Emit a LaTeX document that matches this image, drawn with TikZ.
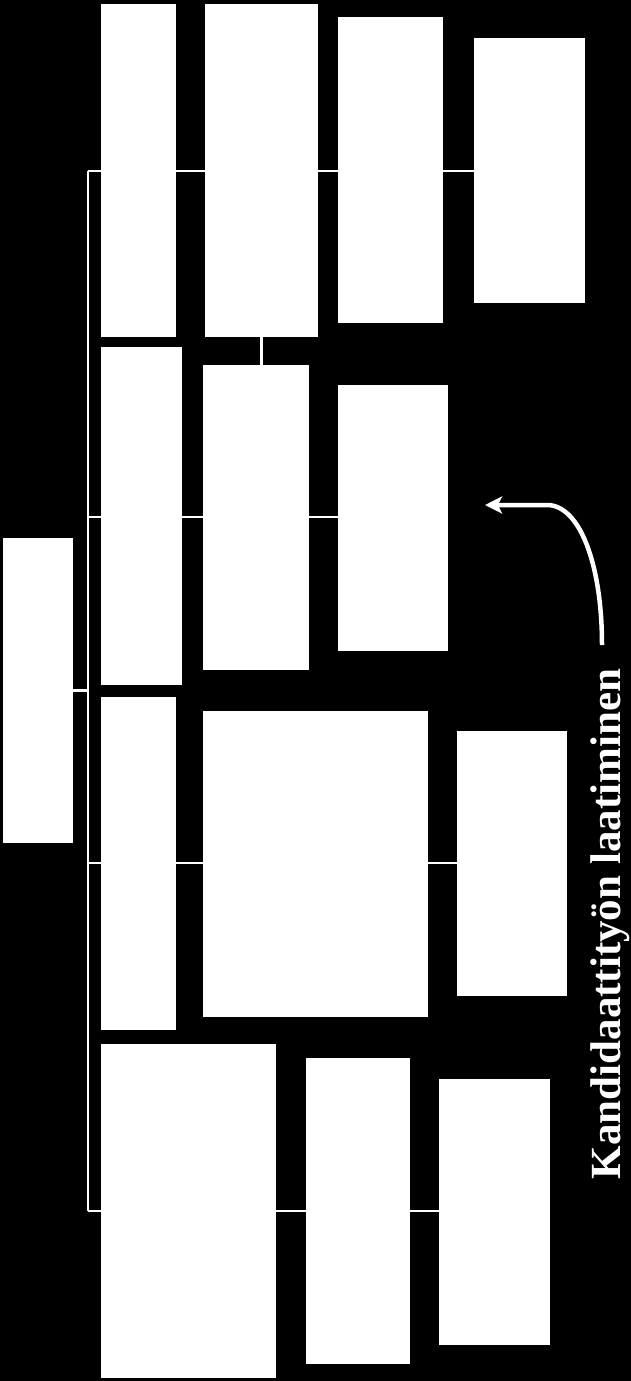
\documentclass[tikz,border=0pt]{standalone}
\usepackage{fontspec}
\setmainfont{Liberation Serif}
\usetikzlibrary{arrows.meta}
\tikzset{
  box/.style 2 args={fill=white, draw=none, inner sep=0pt, outer sep=0pt,
    minimum width=#1 bp, minimum height=#2 bp},
  conn/.style={draw=white, line width=2.3bp},
  bigarrow/.style={draw=white, line width=4.5bp,
    -{Stealth[length=17bp,width=17bp,inset=4bp]}},
  label/.style={text=white, font=\fontsize{43bp}{43bp}\selectfont\bfseries,
    inner sep=0pt, rotate=90, anchor=base}
}
\begin{document}
\begin{tikzpicture}[x=1bp,y=-1bp]
\fill[black] (0,0) rectangle (631,1381);
\useasboundingbox (0,0) rectangle (631,1381);
% boxes
\node[box={70}{305}]  (root) at (38,690.5) {};
\node[box={75}{333}]  (b1)  at (138.5,170.5) {};
\node[box={113}{333}] (b2)  at (261.5,170.5) {};
\node[box={105}{306}] (b3)  at (390.5,170) {};
\node[box={111}{265}] (b4)  at (529.5,170.5) {};
\node[box={81}{338}]  (b5)  at (141.5,516) {};
\node[box={106}{305}] (b6)  at (256,517.5) {};
\node[box={110}{266}] (b7)  at (393,518) {};
\node[box={75}{333}]  (b8)  at (138.5,863.5) {};
\node[box={225}{306}] (b9)  at (315.5,864) {};
\node[box={110}{265}] (b10) at (512,863.5) {};
\node[box={175}{334}] (b11) at (188.5,1211) {};
\node[box={104}{306}] (b12) at (358,1211) {};
\node[box={111}{266}] (b13) at (494.5,1212) {};
% row levels
\coordinate (r1) at (88,171);
\coordinate (r2) at (88,517);
\coordinate (r3) at (88,863);
\coordinate (r4) at (88,1211);
% spine
\draw[conn] (r1) -- (r4);
\draw[conn] (root.east) -- (root.east -| r1);
\draw[conn] (r1) -- (r1 -| b1.west);
\draw[conn] (r2) -- (r2 -| b5.west);
\draw[conn] (r3) -- (r3 -| b8.west);
\draw[conn] (r4) -- (r4 -| b11.west);
% rows
\draw[conn] (r1 -| b1.east) -- (r1 -| b2.west);
\draw[conn] (r1 -| b2.east) -- (r1 -| b3.west);
\draw[conn] (r1 -| b3.east) -- (r1 -| b4.west);
\draw[conn] (r2 -| b5.east) -- (r2 -| b6.west);
\draw[conn] (r2 -| b6.east) -- (r2 -| b7.west);
\draw[conn] (r3 -| b8.east) -- (r3 -| b9.west);
\draw[conn] (r3 -| b9.east) -- (r3 -| b10.west);
\draw[conn] (r4 -| b11.east) -- (r4 -| b12.west);
\draw[conn] (r4 -| b12.east) -- (r4 -| b13.west);
\draw[conn] (b2.south) -- (b6.north -| b2.south);
% label and arrow
\node[label] (lab) at (620,924) {Kandidaattityön laatiminen};
\coordinate (aS) at (602,645);
\coordinate (aM) at (547,505);
\coordinate (aE) at (485,505);
\draw[bigarrow] (aS) .. controls (602,565) and (580,505) .. (aM) -- (aE);
\end{tikzpicture}
\end{document}
